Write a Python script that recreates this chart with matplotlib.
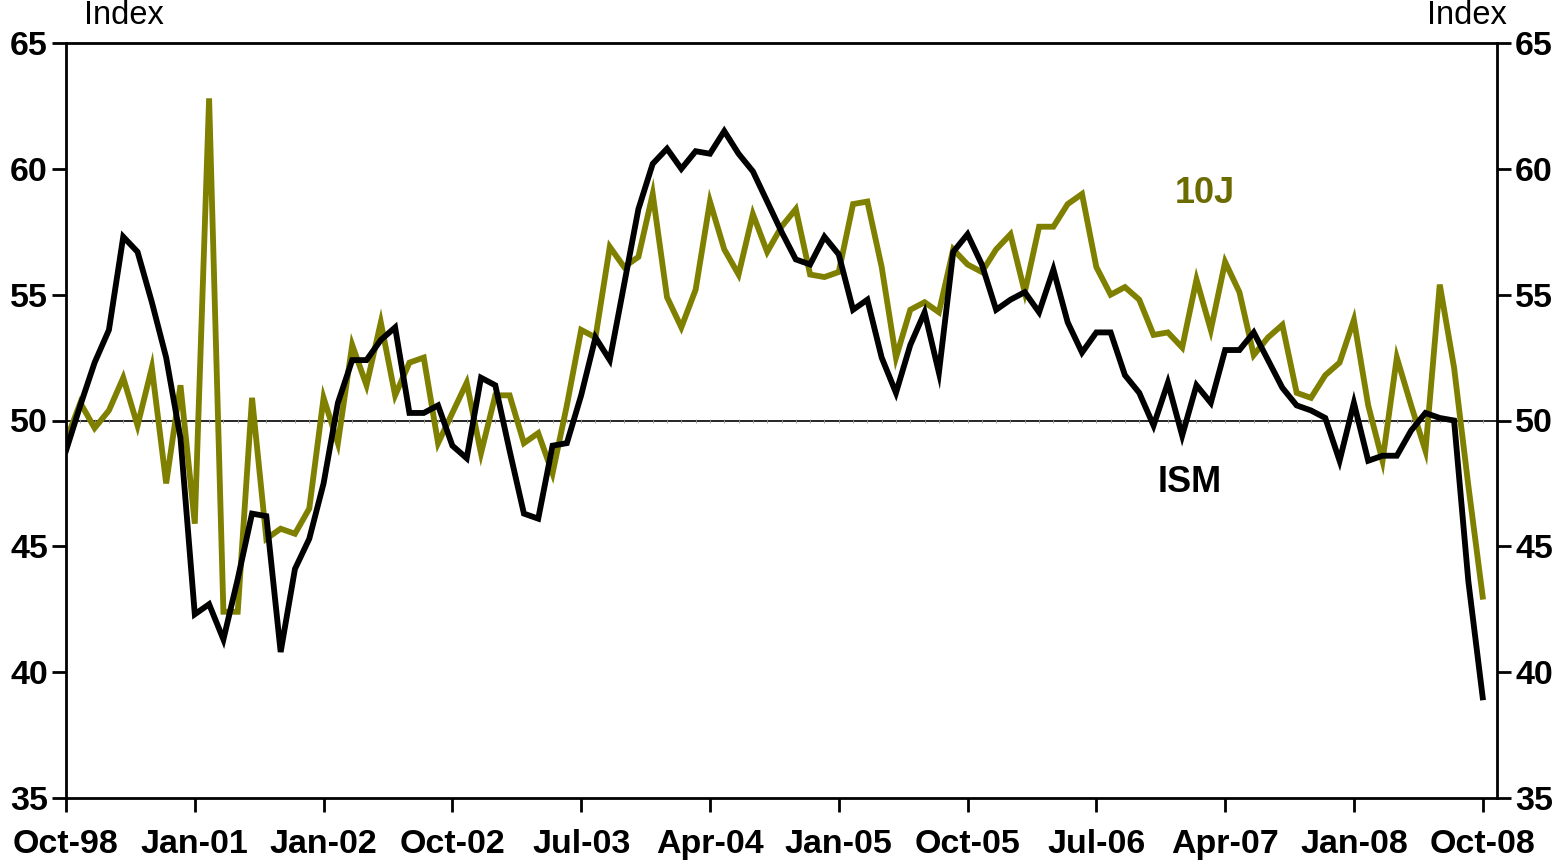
"""
ISM vs 10J index, Oct-98 to Oct-08
"""
import matplotlib
matplotlib.use("Agg")
import matplotlib.pyplot as plt

OLIVE = "#808000"
FONT = "Liberation Sans"
TICK_SIZE = 24.5

tick_labels = ["Oct-98", "Jan-01", "Jan-02", "Oct-02", "Jul-03", "Apr-04",
               "Jan-05", "Oct-05", "Jul-06", "Apr-07", "Jan-08", "Oct-08"]

ism = [48.8, 50.6, 52.3, 53.6, 57.3, 56.7, 54.7, 52.5, 49.3, 42.3,
       42.7, 41.3, 43.7, 46.3, 46.2, 40.8, 44.1, 45.3, 47.5, 50.7,
       52.4, 52.4, 53.2, 53.7, 50.3, 50.3, 50.6, 49.0, 48.5, 51.7,
       51.4, 48.8, 46.3, 46.1, 49.0, 49.1, 51.0, 53.3, 52.4, 55.4,
       58.4, 60.2, 60.8, 60.0, 60.7, 60.6, 61.5, 60.6, 59.9, 58.7,
       57.5, 56.4, 56.2, 57.3, 56.6, 54.4, 54.8, 52.5, 51.1, 53.0,
       54.3, 51.9, 56.7, 57.4, 56.2, 54.4, 54.8, 55.1, 54.3, 56.0,
       53.9, 52.7, 53.5, 53.5, 51.8, 51.1, 49.8, 51.5, 49.4, 51.4,
       50.7, 52.8, 52.8, 53.5, 52.4, 51.3, 50.6, 50.4, 50.1, 48.4,
       50.7, 48.4, 48.6, 48.6, 49.6, 50.3, 50.1, 50.0, 43.6, 39.0]

ten_j = [49.2, 50.7, 49.7, 50.4, 51.7, 49.8, 52.1, 47.5, 51.4, 45.9,
         62.8, 42.4, 42.4, 50.9, 45.3, 45.7, 45.5, 46.5, 50.9, 49.1,
         53.0, 51.4, 53.9, 51.0, 52.3, 52.5, 49.1, 50.3, 51.5, 48.7,
         51.0, 51.0, 49.1, 49.5, 47.9, 50.6, 53.6, 53.3, 56.9, 56.1,
         56.5, 59.0, 54.9, 53.7, 55.2, 58.7, 56.8, 55.8, 58.2, 56.7,
         57.7, 58.4, 55.8, 55.7, 55.9, 58.6, 58.7, 56.1, 52.5, 54.4,
         54.7, 54.3, 56.8, 56.2, 55.9, 56.8, 57.4, 55.1, 57.7, 57.7,
         58.6, 59.0, 56.1, 55.0, 55.3, 54.8, 53.4, 53.5, 52.9, 55.6,
         53.6, 56.3, 55.1, 52.6, 53.3, 53.8, 51.1, 50.9, 51.8, 52.3,
         54.0, 50.6, 48.4, 52.5, 50.6, 48.8, 55.4, 52.1, 47.4, 43.0]

x = list(range(len(ism)))

fig = plt.figure(figsize=(15.62, 8.65), dpi=100)
ax = fig.add_axes([66 / 1562, 1 - 798 / 865, (1497 - 66) / 1562, (798 - 43) / 865])

# crossing axis at 50 with its little category ticks
ax.axhline(50, color="black", lw=1.2, zorder=1)
ax.plot(x, [50] * len(x), linestyle="none", marker="|", markersize=2.5,
        color="#999999", markeredgewidth=0.6, zorder=1)

ax.plot(x, ten_j, color=OLIVE, lw=4.2, solid_joinstyle="miter", zorder=2)
ax.plot(x, ism, color="black", lw=4.2, solid_joinstyle="miter", zorder=3)

ax.set_xlim(0, 100)
ax.set_ylim(35, 65)
ax.set_yticks(range(35, 66, 5))
ax.set_xticks(range(0, 100, 9))
ax.set_xticklabels(tick_labels)

for s in ax.spines.values():
    s.set_linewidth(2)

ax.tick_params(axis="y", direction="out", length=10, width=2,
               left=True, right=True, labelleft=True, labelright=True, pad=3)
ax.tick_params(axis="y", which="major", pad=3)
ax.tick_params(axis="x", direction="out", length=10, width=2, pad=12)

for lab in ax.get_xticklabels() + ax.get_yticklabels():
    lab.set_fontfamily(FONT)
    lab.set_fontweight("bold")
    lab.set_fontsize(TICK_SIZE)
for t in ax.yaxis.get_major_ticks():
    t.label2.set_fontfamily(FONT)
    t.label2.set_fontweight("bold")
    t.label2.set_fontsize(TICK_SIZE)
    t.label2.set_x(1.0)

fig.text(124 / 1562, 1 - 15 / 865, "Index", ha="center", va="center",
         fontsize=23.5, family=FONT)
fig.text(1507 / 1562, 1 - 15 / 865, "Index", ha="right", va="center",
         fontsize=23.5, family=FONT)

ax.text(79.6, 59.0, "10J", color="#6b6b00", fontsize=26, fontweight="bold",
        family=FONT, ha="center", va="center")
ax.text(78.5, 47.55, "ISM", color="black", fontsize=26, fontweight="bold",
        family=FONT, ha="center", va="center")

fig.savefig("out.png", dpi=100)
